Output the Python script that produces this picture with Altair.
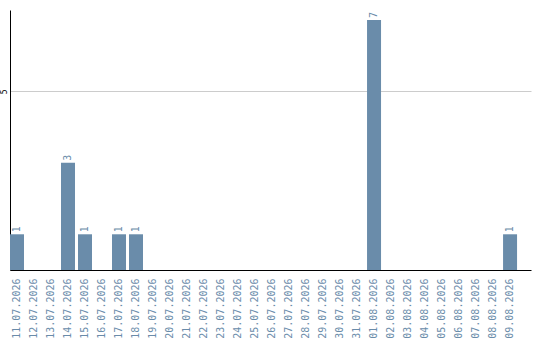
import altair as alt
import pandas as pd

dates = [
    "11.07.2026", "12.07.2026", "13.07.2026", "14.07.2026", "15.07.2026",
    "16.07.2026", "17.07.2026", "18.07.2026", "19.07.2026", "20.07.2026",
    "21.07.2026", "22.07.2026", "23.07.2026", "24.07.2026", "25.07.2026",
    "26.07.2026", "27.07.2026", "28.07.2026", "29.07.2026", "30.07.2026",
    "31.07.2026", "01.08.2026", "02.08.2026", "03.08.2026", "04.08.2026",
    "05.08.2026", "06.08.2026", "07.08.2026", "08.08.2026", "09.08.2026",
]
counts = [1, 0, 0, 3, 1, 0, 1, 1, 0, 0,
          0, 0, 0, 0, 0, 0, 0, 0, 0, 0,
          0, 7, 0, 0, 0, 0, 0, 0, 0, 1]

df = pd.DataFrame({"date": dates, "count": counts})

bar_color = "#6a8caa"
label_color = "#6a8caa"
mono = "DejaVu Sans Mono"

x_enc = alt.X(
    "date:N",
    sort=dates,
    title=None,
    scale=alt.Scale(paddingInner=3 / 17, paddingOuter=0.41, align=0),
    axis=alt.Axis(
        labelAngle=-90,
        labelFont=mono,
        labelFontSize=10,
        labelColor=label_color,
        labelPadding=8,
        labelOverlap=False,
        ticks=False,
        domainColor="#000000",
        domainWidth=1,
        grid=False,
    ),
)

y_enc = alt.Y(
    "count:Q",
    title=None,
    scale=alt.Scale(domain=[0, 7.28], nice=False),
    axis=alt.Axis(
        values=[5],
        labelAngle=-90,
        labelFont=mono,
        labelFontSize=8,
        labelColor="#000000",
        labelPadding=2,
        labelAlign="center",
        labelBaseline="bottom",
        ticks=False,
        domainColor="#000000",
        domainWidth=1,
        grid=True,
        gridColor="#cccccc",
        gridWidth=1,
    ),
)

bars = alt.Chart(df).mark_bar(color=bar_color).encode(x=x_enc, y=y_enc)

labels = (
    alt.Chart(df)
    .transform_filter("datum.count > 0")
    .mark_text(
        angle=270,
        align="left",
        baseline="middle",
        dx=2,
        font=mono,
        fontSize=10,
        color=label_color,
    )
    .encode(x=x_enc, y=y_enc, text="count:Q")
)

chart = (
    alt.layer(bars, labels)
    .properties(
        width=521,
        height=260,
        padding={"left": 10, "top": 10, "right": 9, "bottom": 70},
        autosize=alt.AutoSizeParams(type="none"),
        view=alt.ViewBackground(strokeOpacity=0, strokeWidth=0),
    )
    .configure_view(strokeOpacity=0, strokeWidth=0)
    .configure(background="#ffffff")
)

chart.save("out.html", embed_options={"renderer": "svg", "actions": False})
